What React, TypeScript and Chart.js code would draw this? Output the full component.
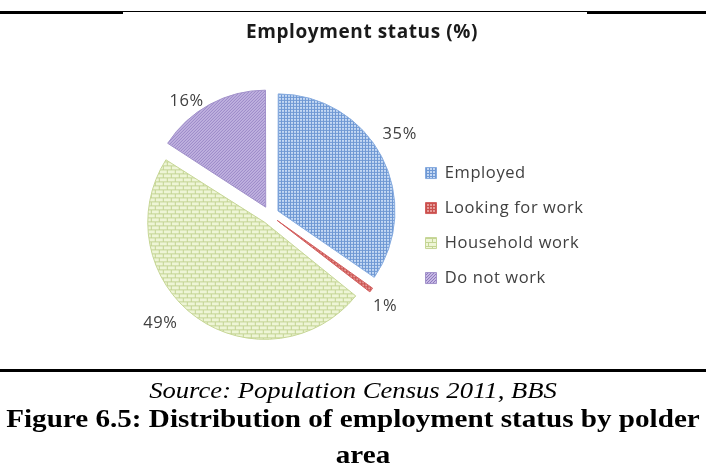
import React, { useEffect, useRef } from 'react';
import { Chart, registerables } from 'chart.js';

Chart.register(...registerables);

// ---- data ----
const categories = ['Employed', 'Looking for work', 'Household work', 'Do not work'];
const shares = [35, 1, 49, 16];
const chartTitle = 'Employment status (%)';
const sourceNote = 'Source: Population Census 2011, BBS';
const captionLine1 = 'Figure 6.5: Distribution of employment status by polder';
const captionLine2 = 'area';

// ---- label placement styling (degrees / pixels relative to each slice) ----
const labelAngleShift = [-4.4, 1.9, 9.7, -7.7];
const labelGap = [36, 30, 37, 24];

const SERIF = '"Liberation Serif", "Times New Roman", serif';
const SANS = '"Open Sans", Lato, sans-serif';
const TRACKING = '0.6px';

function makeTile(
  ctx: CanvasRenderingContext2D,
  w: number,
  h: number,
  paint: (g: CanvasRenderingContext2D) => void
) {
  const c = document.createElement('canvas');
  c.width = w;
  c.height = h;
  const g = c.getContext('2d') as CanvasRenderingContext2D;
  paint(g);
  return ctx.createPattern(c, 'repeat') as CanvasPattern;
}

const tracking = {
  id: 'tracking',
  beforeUpdate(chart: any) {
    chart.ctx.letterSpacing = TRACKING;
  },
  beforeLayout(chart: any) {
    chart.ctx.letterSpacing = TRACKING;
  },
  beforeDraw(chart: any) {
    chart.ctx.letterSpacing = TRACKING;
  },
};

const evenRadius = {
  id: 'evenRadius',
  beforeDatasetsDraw(chart: any) {
    const meta = chart.getDatasetMeta(0);
    const base = meta.controller.outerRadius;
    meta.data.forEach((arc: any) => {
      const off = (arc.options.offset || 0) / 4;
      const fix = 1 - Math.sin(Math.min(Math.PI, arc.circumference || 0));
      arc.outerRadius = base - off * fix;
    });
  },
};

const pctLabels = {
  id: 'pctLabels',
  afterDatasetsDraw(chart: any) {
    const meta = chart.getDatasetMeta(0);
    const ctx = chart.ctx;
    const r = meta.controller.outerRadius;
    ctx.save();
    ctx.letterSpacing = TRACKING;
    ctx.font = '16.5px "Open Sans"';
    ctx.fillStyle = '#404040';
    ctx.textAlign = 'center';
    ctx.textBaseline = 'middle';
    meta.data.forEach((arc: any, i: number) => {
      const a = (arc.startAngle + arc.endAngle) / 2 + (labelAngleShift[i] * Math.PI) / 180;
      const d = r + labelGap[i];
      ctx.fillText(shares[i] + '%', arc.x + Math.cos(a) * d, arc.y + Math.sin(a) * d);
    });
    ctx.restore();
  },
};

export default function App() {
  const canvasRef = useRef<HTMLCanvasElement | null>(null);

  useEffect(() => {
    const canvas = canvasRef.current;
    if (!canvas) return;
    const ctx = canvas.getContext('2d') as any;

    const pEmployed = makeTile(ctx, 3, 3, (g) => {
      g.fillStyle = '#c4d8f3';
      g.fillRect(0, 0, 3, 3);
      g.fillStyle = '#6f98d4';
      g.fillRect(0, 0, 3, 1);
      g.fillRect(0, 0, 1, 3);
    });
    const pLooking = makeTile(ctx, 3, 3, (g) => {
      g.fillStyle = '#e69a98';
      g.fillRect(0, 0, 3, 3);
      g.fillStyle = '#c9504c';
      g.fillRect(0, 0, 3, 1);
      g.fillRect(0, 0, 1, 3);
    });
    const pHousehold = makeTile(ctx, 8, 8, (g) => {
      g.fillStyle = '#eef5d6';
      g.fillRect(0, 0, 8, 8);
      g.fillStyle = '#c3d493';
      g.fillRect(0, 0, 8, 1);
      g.fillRect(0, 4, 8, 1);
      g.fillRect(0, 1, 1, 3);
      g.fillRect(4, 5, 1, 3);
    });
    const pNotWork = makeTile(ctx, 3, 3, (g) => {
      g.fillStyle = '#c6b8e3';
      g.fillRect(0, 0, 3, 3);
      g.fillStyle = '#8e7abf';
      g.fillRect(2, 0, 1, 1);
      g.fillRect(1, 1, 1, 1);
      g.fillRect(0, 2, 1, 1);
    });

    const chart = new Chart(canvas, {
      type: 'pie',
      data: {
        labels: categories,
        datasets: [
          {
            data: shares,
            backgroundColor: [pEmployed, pLooking, pHousehold, pNotWork],
            borderColor: ['#86abdf', '#d35f5f', '#c6d695', '#a292ca'],
            borderWidth: 1,
            offset: 36,
          },
        ],
      },
      options: {
        responsive: false,
        animation: false,
        events: [],
        radius: 117,
        layout: { padding: { left: 133, right: 115, top: 0, bottom: 37 } },
        plugins: {
          title: {
            display: true,
            text: chartTitle,
            color: '#1a1a1a',
            font: { family: SANS, size: 19, weight: 'bold', lineHeight: 1.2 },
            padding: { top: 7.3, bottom: 9 },
          },
          legend: {
            display: true,
            position: 'right',
            align: 'center',
            fullSize: false,
            maxWidth: 184,
            title: { display: true, text: '', font: { size: 10, lineHeight: 1.2 }, padding: 4.5 },
            labels: {
              boxWidth: 11,
              boxHeight: 11,
              padding: 18.5,
              color: '#404040',
              font: { family: SANS, size: 16.5 },
            },
          },
          tooltip: { enabled: false },
        },
      } as any,
      plugins: [tracking, evenRadius, pctLabels],
    });

    return () => chart.destroy();
  }, []);

  return (
    <div
      style={{
        position: 'fixed',
        left: 0,
        top: 0,
        width: 706,
        height: 464,
        background: '#fff',
        overflow: 'hidden',
      }}
    >
      {/* top rules */}
      <div style={{ position: 'absolute', left: 0, top: 11, width: 123, height: 3, background: '#000' }} />
      <div style={{ position: 'absolute', left: 123, top: 11, width: 464, height: 1, background: '#000' }} />
      <div style={{ position: 'absolute', left: 587, top: 11, width: 119, height: 3, background: '#000' }} />

      <canvas
        ref={canvasRef}
        width={706}
        height={400}
        style={{ position: 'absolute', left: 0, top: 14, width: 706, height: 400 }}
      />

      {/* bottom rule */}
      <div style={{ position: 'absolute', left: 0, top: 369, width: 706, height: 3, background: '#000' }} />

      <div
        style={{
          position: 'absolute',
          left: 0,
          top: 378,
          width: 706,
          textAlign: 'center',
          fontFamily: SERIF,
          fontStyle: 'italic',
          fontSize: 24,
          lineHeight: '24px',
          whiteSpace: 'nowrap',
          color: '#000',
          transform: 'scaleX(1.11)',
        }}
      >
        {sourceNote}
      </div>
      <div
        style={{
          position: 'absolute',
          left: 0,
          top: 406,
          width: 706,
          textAlign: 'center',
          fontFamily: SERIF,
          fontWeight: 'bold',
          fontSize: 26,
          lineHeight: '26px',
          whiteSpace: 'nowrap',
          color: '#000',
          transform: 'scaleX(1.12)',
        }}
      >
        {captionLine1}
      </div>
      <div
        style={{
          position: 'absolute',
          left: 10,
          top: 442,
          width: 706,
          textAlign: 'center',
          fontFamily: SERIF,
          fontWeight: 'bold',
          fontSize: 26,
          lineHeight: '26px',
          whiteSpace: 'nowrap',
          color: '#000',
          transform: 'scaleX(1.12)',
        }}
      >
        {captionLine2}
      </div>
    </div>
  );
}
